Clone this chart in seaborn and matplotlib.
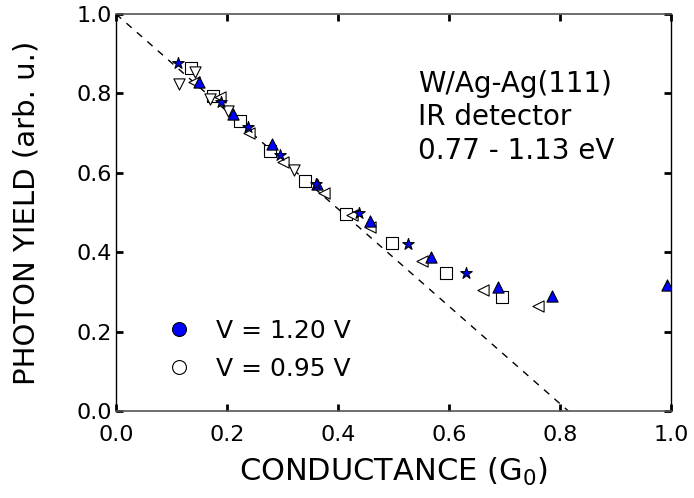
import matplotlib
matplotlib.use("Agg")
import matplotlib.pyplot as plt
import seaborn as sns
from matplotlib.lines import Line2D

sns.set_theme(style="white")
plt.rcParams['font.family'] = ['DejaVu Sans']
plt.rcParams['text.color'] = 'black'
plt.rcParams['axes.labelcolor'] = 'black'
plt.rcParams['xtick.color'] = 'black'
plt.rcParams['ytick.color'] = 'black'

# V = 1.20 V series (filled blue)
tri_up_x = [0.150, 0.210, 0.281, 0.362, 0.458, 0.568, 0.688, 0.786, 0.992]
tri_up_y = [0.829, 0.748, 0.672, 0.571, 0.479, 0.387, 0.313, 0.290, 0.317]
star_x = [0.111, 0.189, 0.238, 0.295, 0.360, 0.437, 0.527, 0.631]
star_y = [0.876, 0.778, 0.715, 0.645, 0.573, 0.498, 0.420, 0.347]

# V = 0.95 V series (open)
square_x = [0.135, 0.175, 0.223, 0.278, 0.341, 0.414, 0.498, 0.594, 0.695]
square_y = [0.863, 0.793, 0.731, 0.655, 0.580, 0.495, 0.424, 0.347, 0.288]
tri_left_x = [0.141, 0.187, 0.240, 0.300, 0.374, 0.425, 0.458, 0.552, 0.662, 0.760]
tri_left_y = [0.828, 0.790, 0.701, 0.626, 0.548, 0.494, 0.463, 0.379, 0.305, 0.265]
tri_down_x = [0.114, 0.142, 0.169, 0.202, 0.321]
tri_down_y = [0.823, 0.853, 0.785, 0.756, 0.607]

# linear guide line
fit_x = [0.0, 0.815]
fit_y = [1.0, 0.0]

x_ticks = [0.0, 0.2, 0.4, 0.6, 0.8, 1.0]
y_ticks = [0.0, 0.2, 0.4, 0.6, 0.8, 1.0]
tick_labels = ["0.0", "0.2", "0.4", "0.6", "0.8", "1.0"]

annotation = "W/Ag-Ag(111)\nIR detector\n0.77 - 1.13 eV"
legend_labels = ["V = 1.20 V", "V = 0.95 V"]

fig = plt.figure(figsize=(6.94, 4.98), dpi=100)
ax = fig.add_axes([116/694, 87/498, 555/694, 397/498])

sns.lineplot(x=fit_x, y=fit_y, ax=ax, color="black", lw=1.0,
             linestyle=(0, (5, 5)), zorder=1)

open_kw = dict(facecolor="white", edgecolor="black", linewidth=0.8, zorder=3)
filled_kw = dict(color="#0000ff", edgecolor="black", linewidth=0.8, zorder=4)

sns.scatterplot(x=square_x, y=square_y, marker="s", s=65, ax=ax, **open_kw)
sns.scatterplot(x=tri_left_x, y=tri_left_y, marker="<", s=65, ax=ax, **open_kw)
sns.scatterplot(x=tri_down_x, y=tri_down_y, marker="v", s=65, ax=ax, **open_kw)
sns.scatterplot(x=tri_up_x, y=tri_up_y, marker="^", s=65, ax=ax, **filled_kw)
sns.scatterplot(x=star_x, y=star_y, marker="*", s=75, ax=ax, **filled_kw)

ax.set_xlim(0, 1)
ax.set_ylim(0, 1)
ax.set_xticks(x_ticks)
ax.set_yticks(y_ticks)
ax.set_xticklabels(tick_labels, fontsize=16)
ax.set_yticklabels(tick_labels, fontsize=16)
ax.tick_params(direction="in", length=5, width=2, color="black",
               top=True, right=True, bottom=True, left=True)
ax.tick_params(axis="x", pad=10)
ax.tick_params(axis="y", pad=3)
ax.set_xlabel("CONDUCTANCE (G$_0$)", fontsize=22, labelpad=8)
ax.set_ylabel("PHOTON YIELD (arb. u.)", fontsize=21, labelpad=26)

for side in ["left", "right"]:
    ax.spines[side].set_color("black")
    ax.spines[side].set_linewidth(1.0)
for side in ["top", "bottom"]:
    ax.spines[side].set_color("#555555")
    ax.spines[side].set_linewidth(1.2)

ax.text(0.545, 0.860, annotation, transform=ax.transAxes, fontsize=20,
        va="top", ha="left", linespacing=1.25)

handles = [
    Line2D([], [], marker="o", linestyle="none", markersize=10,
           markerfacecolor="#0000ff", markeredgecolor="black", markeredgewidth=0.8),
    Line2D([], [], marker="o", linestyle="none", markersize=10,
           markerfacecolor="white", markeredgecolor="black", markeredgewidth=0.8),
]
ax.legend(handles, legend_labels, loc="lower left", bbox_to_anchor=(0.05, 0.02),
          frameon=False, fontsize=18, handletextpad=1.0, labelspacing=0.55,
          handlelength=1.0)

fig.savefig("out.png", dpi=100)
